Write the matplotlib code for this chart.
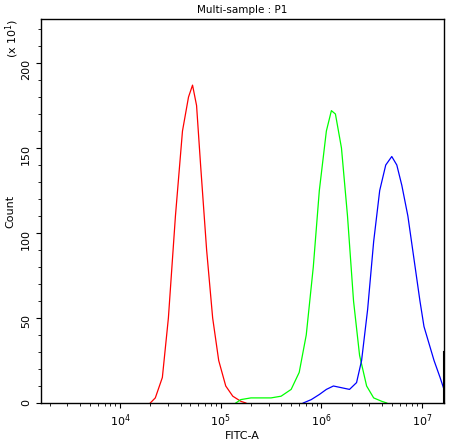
import matplotlib
matplotlib.use("Agg")
import matplotlib.pyplot as plt
from matplotlib.ticker import LogLocator, NullFormatter, MultipleLocator

red_logx = [4.30,4.35,4.42,4.48,4.55,4.62,4.68,4.72,4.76,4.80,4.86,4.92,4.98,5.05,5.12,5.20,5.25]
red_cnt  = [0,3,15,50,110,160,180,187,175,140,90,50,25,10,4,1,0]
green_logx = [5.15,5.20,5.30,5.50,5.60,5.70,5.78,5.85,5.92,5.98,6.05,6.10,6.14,6.20,6.26,6.32,6.38,6.45,6.52,6.60,6.65]
green_cnt  = [0,2,3,3,4,8,18,40,80,125,160,172,170,150,110,60,28,10,3,1,0]
blue_logx = [5.82,5.90,5.98,6.05,6.12,6.20,6.28,6.35,6.40,6.46,6.52,6.58,6.64,6.70,6.75,6.80,6.86,6.92,6.98,7.02,7.07,7.12,7.18,7.219]
blue_cnt  = [0,2,5,8,10,9,8,12,25,55,95,125,140,145,140,128,110,85,60,45,35,25,15,8]
edge_cnt = [0, 30]

fig = plt.figure(figsize=(4.52,4.42), dpi=100)
ax = fig.add_axes([41/452, 1-403/442, 403/452, 384/442])
for lx, c, col in [(red_logx, red_cnt, 'red'), (green_logx, green_cnt, '#00ff00'), (blue_logx, blue_cnt, 'blue')]:
    ax.plot([10**v for v in lx], c, color=col, lw=0.9)
ax.plot([10**7.219]*2, edge_cnt, color='black', lw=1.5)
ax.set_xscale('log')
ax.set_xlim(10**3.214, 10**7.219)
ax.set_ylim(0, 225.9)
ax.yaxis.set_major_locator(MultipleLocator(50))
ax.yaxis.set_minor_locator(MultipleLocator(10))
ax.xaxis.set_major_locator(LogLocator(base=10, numticks=10))
ax.xaxis.set_minor_locator(LogLocator(base=10, subs=range(2,10), numticks=100))
ax.xaxis.set_minor_formatter(NullFormatter())
ax.tick_params(labelsize=8, direction='out')
ax.tick_params(axis='y', labelrotation=90)
for s in ax.spines.values():
    s.set_linewidth(1)
ax.set_xlabel('FITC-A', fontsize=8, labelpad=1)
ax.set_ylabel('Count', fontsize=8)
ax.set_title('Multi-sample : P1', fontsize=7.5, pad=4)
fig.text(12/452, 1-38/442, r'(x 10$^1$)', rotation=90, fontsize=8, ha='center', va='center')
fig.savefig('out.png')
